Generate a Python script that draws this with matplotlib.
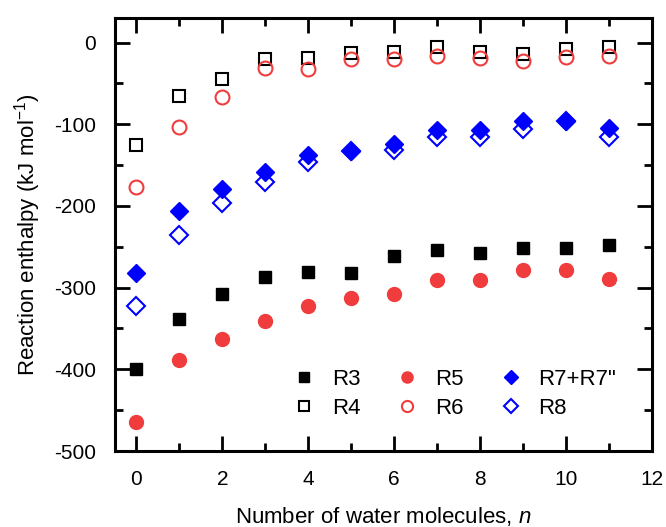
import matplotlib
matplotlib.use("Agg")
import matplotlib.pyplot as plt
from matplotlib.ticker import MultipleLocator

plt.rcParams['font.family'] = ['Liberation Sans', 'DejaVu Sans']
plt.rcParams['axes.unicode_minus'] = False
plt.rcParams['mathtext.fontset'] = 'custom'
plt.rcParams['mathtext.it'] = 'Liberation Sans:italic'
plt.rcParams['mathtext.rm'] = 'Liberation Sans'

n = list(range(12))
R3 = [-400, -338, -308, -287, -281, -282, -261, -254, -258, -251, -252, -248]
R4 = [-125, -65, -45, -20, -19, -13, -11, -6, -11, -14, -8, -6]
R5 = [-465, -388, -363, -341, -322, -313, -308, -291, -291, -279, -279, -289]
R6 = [-177, -104, -67, -31, -33, -20, -20, -17, -19, -22, -18, -17]
R7 = [-282, -206, -179, -158, -138, -133, -124, -107, -107, -96, -96, -105]
R8 = [-322, -236, -197, -171, -146, -133, -132, -116, -116, -106, -96, -116]

red = '#f03c3c'
blue = '#0000ff'
fs_tick = 15
fs_lab = 16

fig = plt.figure(figsize=(6.66, 5.27), dpi=100)
ax = fig.add_axes([0.1727, 0.1442, 0.806, 0.8216])

ax.plot(n, R3, ls='none', marker='s', ms=8.5, color='black', label='R3')
ax.plot(n, R4, ls='none', marker='s', ms=8.5, mfc='none', mec='black', mew=1.5, label='R4')
ax.plot(n, R5, ls='none', marker='o', ms=10, color=red, label='R5')
ax.plot(n, R6, ls='none', marker='o', ms=10, mfc='none', mec=red, mew=1.5, label='R6')
ax.plot(n, R7, ls='none', marker='D', ms=9, color=blue, label='R7+R7"')
ax.plot(n, R8, ls='none', marker='D', ms=9, mfc='none', mec=blue, mew=1.5, label='R8')

ax.set_xlim(-0.5, 12)
ax.set_ylim(-500, 30)
ax.xaxis.set_major_locator(MultipleLocator(2))
ax.xaxis.set_minor_locator(MultipleLocator(1))
ax.yaxis.set_major_locator(MultipleLocator(100))
ax.yaxis.set_minor_locator(MultipleLocator(50))
ax.tick_params(which='both', direction='in', top=True, right=True, labelsize=fs_tick, width=2)
ax.tick_params(which='major', length=11, pad=13.5)
ax.tick_params(which='minor', length=5.5)
for s in ax.spines.values():
    s.set_linewidth(2.2)

ax.set_xlabel('Number of water molecules, $\\mathit{n}$', fontsize=fs_lab, labelpad=12)
ax.set_ylabel('Reaction enthalpy (kJ mol$^{\\mathregular{-1}}$)', fontsize=fs_lab, labelpad=8)

leg = ax.legend(ncol=3, loc='center', bbox_to_anchor=(0.633, 0.1316), frameon=False,
                fontsize=fs_lab, handletextpad=0.76, columnspacing=1.6, labelspacing=0.35,
                handlelength=1.0, borderpad=0, markerscale=0.8)

fig.savefig('out.png', dpi=100)
